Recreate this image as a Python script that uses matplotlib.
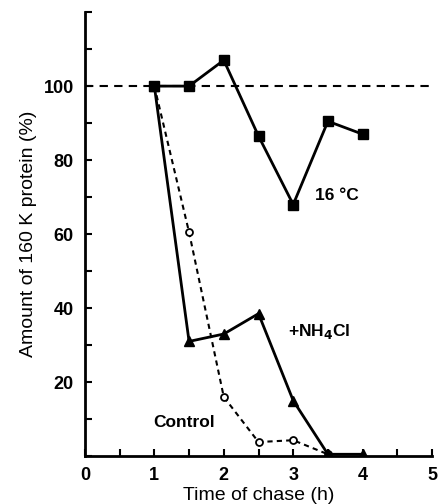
import matplotlib
matplotlib.use('Agg')
import matplotlib.pyplot as plt
import numpy as np

# data
time_16 = [1, 1.5, 2, 2.5, 3, 3.5, 4]
val_16 = [100, 100, 107, 86.5, 68, 90.5, 87]

time_nh4 = [1, 1.5, 2, 2.5, 3, 3.5, 4]
val_nh4 = [100, 31, 33, 38.5, 15, 0.5, 0.5]

time_ctrl = [1, 1.5, 2, 2.5, 3, 3.5]
val_ctrl = [100, 60.5, 16, 3.8, 4.3, 0.5]

xticks = [0, 1, 2, 3, 4, 5]
yticks = [20, 40, 60, 80, 100]

plt.rcParams['font.family'] = ['Liberation Sans', 'DejaVu Sans']

fig = plt.figure(figsize=(4.4, 5.04), dpi=100)
ax = fig.add_axes([0.193, 0.095, 0.789, 0.881])

ax.axhline(100, color='black', ls=(0, (4, 3)), lw=1.5, zorder=1)

ax.plot(time_ctrl, val_ctrl, color='black', ls=(0, (2.5, 2)), lw=1.5,
        marker='o', ms=5, mfc='white', mec='black', mew=1.3, zorder=2)
ax.plot(time_16, val_16, '-', color='black', lw=2, marker='s', ms=7, zorder=3)
ax.plot(time_nh4, val_nh4, '-', color='black', lw=2, marker='^', ms=7, zorder=3)

ax.text(3.32, 68.5, '16 °C', fontsize=12.5, fontweight='bold', ha='left', va='bottom')
ax.text(2.93, 31, '+NH$_\\mathbf{4}$Cl', fontsize=12.5, fontweight='bold', ha='left', va='bottom')
ax.text(0.99, 7, 'Control', fontsize=12.5, fontweight='bold', ha='left', va='bottom')

ax.set_xlim(0, 5)
ax.set_ylim(0, 120)
ax.set_xticks(xticks)
ax.set_xticks(np.arange(0, 5.01, 0.5), minor=True)
ax.set_yticks(yticks)
ax.set_yticks(np.arange(0, 120.1, 10), minor=True)

for s in ['top', 'right']:
    ax.spines[s].set_visible(False)
for s in ['left', 'bottom']:
    ax.spines[s].set_linewidth(2)

ax.tick_params(which='both', direction='in', width=1.5, labelsize=13, pad=8)
ax.tick_params(which='major', length=5)
ax.tick_params(which='minor', length=5)
for lab in ax.get_xticklabels() + ax.get_yticklabels():
    lab.set_fontweight('bold')

ax.set_xlabel('Time of chase (h)', fontsize=14, labelpad=2)
ax.set_ylabel('Amount of 160 K protein (%)', fontsize=14, labelpad=5)

fig.savefig('out.png', dpi=100)
